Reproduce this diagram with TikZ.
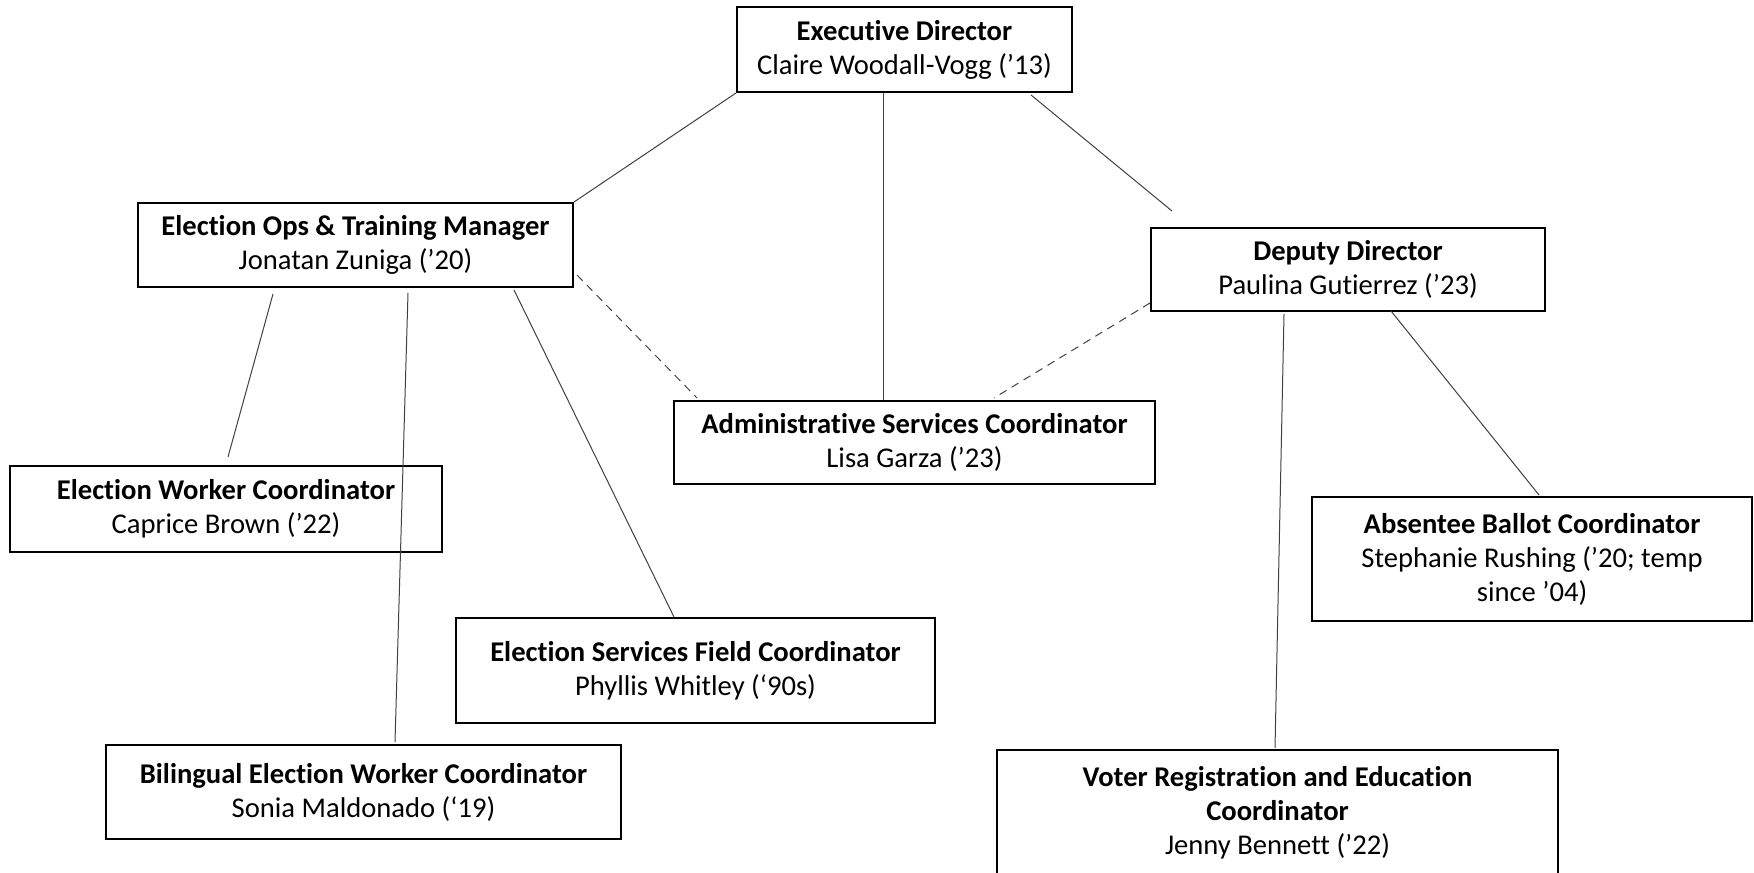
\documentclass[tikz,border=0pt]{standalone}
\usepackage{fontspec}
\setmainfont{Carlito}[Ligatures=CommonOff]
\usetikzlibrary{positioning,calc}

\begin{document}
\begin{tikzpicture}[x=0.5pt, y=-0.5pt,
role/.style={ rectangle, draw, line width=1pt, align=center, inner sep=0pt, font=\fontsize{14.3}{17}\selectfont },
link/.style={ draw=black!75, line width=0.5pt },
dotlink/.style={ link, dash pattern=on 4pt off 3pt }]

\useasboundingbox (0,0) rectangle (1754,872);

% top
\node (exec) [role, minimum width=167.5pt, minimum height=42.5pt] at (904.5,49.5)
	{\textbf{Executive Director}\\Claire Woodall-Vogg (’13)};

% managers
\node (ops) [role, minimum width=217.5pt, minimum height=42pt] at (355.5,245)
	{\textbf{Election Ops \& Training Manager}\\Jonatan Zuniga (’20)};
\node (deputy) [role, minimum width=197pt, minimum height=41.5pt] at (1348,269.5)
	{\textbf{Deputy Director}\\Paulina Gutierrez (’23)};
\node (admin) [role, minimum width=240.5pt, minimum height=41.5pt] at (914.5,442.5)
	{\textbf{Administrative Services Coordinator}\\Lisa Garza (’23)};

% coordinators
\node (ew) [role, minimum width=216pt, minimum height=43pt] at (226,509)
	{\textbf{Election Worker Coordinator}\\Caprice Brown (’22)};
\node (field) [role, minimum width=239.5pt, minimum height=52.5pt] at (695.5,670.5)
	{\textbf{Election Services Field Coordinator}\\Phyllis Whitley (‘90s)};
\node (bil) [role, minimum width=257.5pt, minimum height=47pt] at (363.5,792)
	{\textbf{Bilingual Election Worker Coordinator}\\Sonia Maldonado (‘19)};
\node (abs) [role, minimum width=220pt, minimum height=62pt] at (1532,559)
	{\textbf{Absentee Ballot Coordinator}\\Stephanie Rushing (’20; temp\\since ’04)};
\node (voter) [role, minimum width=280.5pt, minimum height=62.5pt] at (1277.5,812.5)
	{\textbf{Voter Registration and Education}\\\textbf{Coordinator}\\Jenny Bennett (’22)};

% lines
\draw [link] (exec.south west) -- (ops.north east);
\draw [link] ($(exec.south)+(-21.5,0)$) -- ($(admin.north)+(-31.5,0)$);
\draw [link] ($(exec.south east)+(-42,2)$) -- ($(deputy.north west)+(22,-16)$);

\draw [link] ($(ops.south west)+(136,6)$) -- ($(ew.north)+(2,-8)$);
\draw [link] ($(ops.south)+(52.5,5)$) -- ($(bil.north)+(31.5,-2)$);
\draw [link] ($(ops.south east)+(-60,2)$) -- ($(field.north)+(-21.5,0)$);
\draw [dotlink] ($(ops.south east)+(3,-13)$) -- ($(admin.north west)+(24,-2)$);

\draw [dotlink] ($(deputy.south west)+(0,-9)$) -- ($(admin.north)+(79.5,-2)$);
\draw [link] ($(deputy.south)+(-64,2)$) -- ($(voter.north)+(-2.5,-1)$);
\draw [link] ($(deputy.south)+(43,-1)$) -- ($(abs.north)+(7,-1)$);

\end{tikzpicture}
\end{document}
